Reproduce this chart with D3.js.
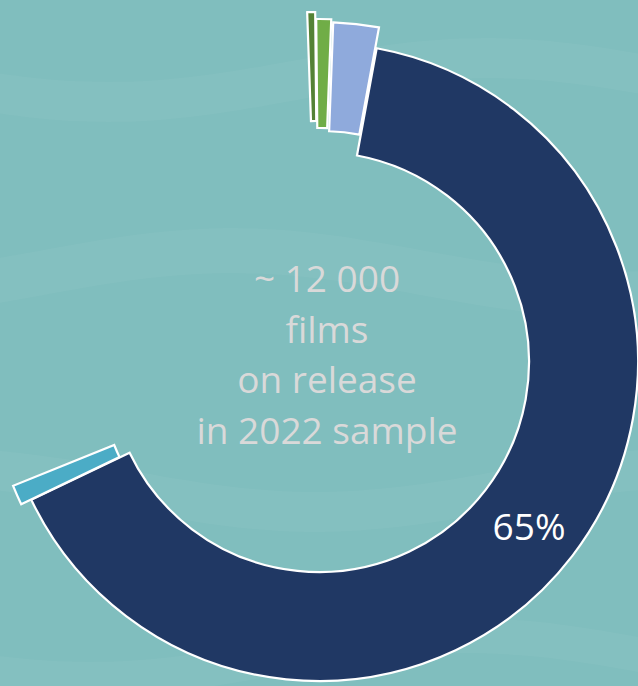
<!DOCTYPE html>
<html lang="en">
<head>
	<meta charset="utf-8">
	<title>Films on release 2022</title>
	<script src="https://d3js.org/d3.v7.min.js"></script>
	<style type="text/css">
		body { margin: 0; background: #80bebe; }
		svg { display: block; }
		.center text { font-family: "Open Sans", sans-serif; font-size: 37px; fill: #d9d9d9; }
		.label { font-family: "Open Sans", sans-serif; font-size: 37px; fill: #ffffff; }
	</style>
</head>
<body>
	<script type="text/javascript">

		//Data
		var categories = ["Dark green", "Green", "Light blue", "Main", "Teal", "Rest"];
		var values = [0.4, 0.75, 2.3, 65, 1.0, 30.55];
		var labels = ["", "", "", "65%", "", ""];
		var centerLines = ["~ 12 000", "films", "on release", "in 2022 sample"];

		//Styles
		var colors = ["#548235", "#70ad47", "#8faadc", "#203864", "#4bacc6", "none"];
		var explode = [31, 24, 21, 0, 11, 0];

		var w = 638;
		var h = 686;
		var cx = 319, cy = 362;
		var rIn = 210, rOut = 319;
		var start = -2.0 * Math.PI / 180;

		var svg = d3.select("body")
			.append("svg")
			.attr("width", w)
			.attr("height", h);

		//faint background waves
		var waveG = svg.append("g").attr("fill", "#ffffff").attr("fill-opacity", 0.035);
		[[60, 40], [250, 45], [470, 40], [640, 35]].forEach(function (b) {
			var pts = d3.range(0, w + 40, 20).map(function (x) {
				return [x, b[0] + 22 * Math.sin(x / 120 + b[0] / 90)];
			});
			waveG.append("path")
				.attr("d", d3.area().x(function (d) { return d[0]; })
					.y0(function (d) { return d[1]; })
					.y1(function (d) { return d[1] + b[1]; })
					.curve(d3.curveBasis)(pts));
		});

		var pie = d3.pie()
			.sort(null)
			.startAngle(start)
			.endAngle(start + 2 * Math.PI);

		var arcs = pie(values);

		var arc = d3.arc()
			.innerRadius(rIn)
			.outerRadius(rOut);

		var g = svg.append("g")
			.attr("transform", "translate(" + cx + "," + cy + ")");

		g.selectAll("path")
			.data(arcs)
			.enter()
			.append("path")
			.attr("d", arc)
			.attr("transform", function (d, i) {
				var a = (d.startAngle + d.endAngle) / 2;
				return "translate(" + (Math.sin(a) * explode[i]) + "," + (-Math.cos(a) * explode[i]) + ")";
			})
			.attr("fill", function (d, i) { return colors[i]; })
			.attr("stroke", function (d, i) { return colors[i] === "none" ? "none" : "#ffffff"; })
			.attr("stroke-width", 2.2)
			.attr("stroke-linejoin", "miter");

		g.selectAll("text.label")
			.data(arcs)
			.enter()
			.append("text")
			.attr("class", "label")
			.attr("text-anchor", "middle")
			.attr("x", function (d) { return arc.centroid(d)[0]; })
			.attr("y", function (d) { return arc.centroid(d)[1] + 17; })
			.text(function (d, i) { return labels[i]; });

		//center text
		var ct = svg.append("g").attr("class", "center");
		ct.selectAll("text")
			.data(centerLines)
			.enter()
			.append("text")
			.attr("text-anchor", "middle")
			.attr("x", cx + 8)
			.attr("y", function (d, i) { return 292 + i * 50.5; })
			.text(function (d) { return d; });

	</script>
</body>
</html>
